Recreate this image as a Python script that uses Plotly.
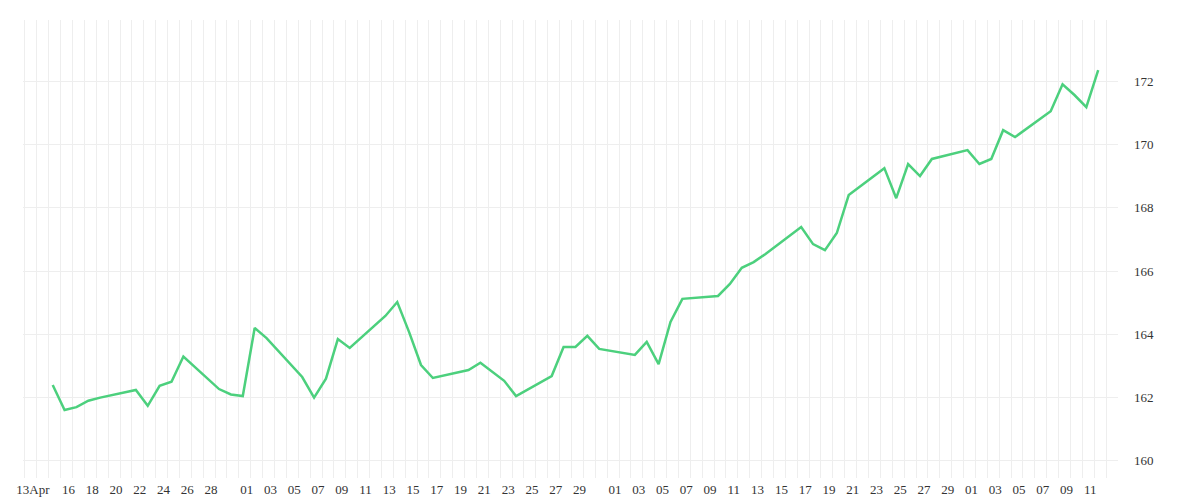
import plotly.graph_objects as go
import pandas as pd

dates = ["2024-04-15","2024-04-16","2024-04-17","2024-04-18","2024-04-19",
         "2024-04-22","2024-04-23","2024-04-24","2024-04-25","2024-04-26",
         "2024-04-29","2024-04-30","2024-05-01","2024-05-02","2024-05-03",
         "2024-05-06","2024-05-07","2024-05-08","2024-05-09","2024-05-10",
         "2024-05-13","2024-05-14","2024-05-15","2024-05-16","2024-05-17",
         "2024-05-20","2024-05-21","2024-05-22","2024-05-23","2024-05-24",
         "2024-05-27","2024-05-28","2024-05-29","2024-05-30","2024-05-31",
         "2024-06-03","2024-06-04","2024-06-05","2024-06-06","2024-06-07",
         "2024-06-10","2024-06-11","2024-06-12","2024-06-13","2024-06-14",
         "2024-06-17","2024-06-18","2024-06-19","2024-06-20","2024-06-21",
         "2024-06-24","2024-06-25","2024-06-26","2024-06-27","2024-06-28",
         "2024-07-01","2024-07-02","2024-07-03","2024-07-04","2024-07-05",
         "2024-07-08","2024-07-09","2024-07-10","2024-07-11","2024-07-12"]
values = [162.40,161.61,161.70,161.90,162.00,
          162.24,161.74,162.37,162.50,163.30,
          162.27,162.10,162.05,164.20,163.88,
          162.65,162.00,162.60,163.85,163.57,
          164.58,165.02,164.07,163.03,162.62,
          162.87,163.10,162.80,162.53,162.05,
          162.68,163.60,163.60,163.95,163.54,
          163.35,163.76,163.06,164.39,165.12,
          165.21,165.59,166.10,166.28,166.54,
          167.39,166.85,166.66,167.20,168.40,
          169.25,168.30,169.38,169.00,169.54,
          169.82,169.38,169.54,170.45,170.23,
          171.05,171.90,171.56,171.18,172.35]

tick_dates = ["2024-04-13"] + [f"2024-04-{d:02d}" for d in range(16, 29, 2)] \
    + [f"2024-05-{d:02d}" for d in range(1, 30, 2)] \
    + [f"2024-06-{d:02d}" for d in range(1, 30, 2)] \
    + [f"2024-07-{d:02d}" for d in range(1, 12, 2)]
tick_labels = ["13Apr"] + [f"{d:02d}" for d in range(16, 29, 2)] \
    + [f"{d:02d}" for d in range(1, 30, 2)] \
    + [f"{d:02d}" for d in range(1, 30, 2)] \
    + [f"{d:02d}" for d in range(1, 12, 2)]

tickvals = [pd.Timestamp(d) + pd.Timedelta(hours=8) for d in tick_dates]

fig = go.Figure(go.Scatter(x=pd.to_datetime(dates), y=values, mode="lines",
                           line=dict(color="#4cd07d", width=2.5)))
fig.update_layout(
    width=1200, height=500, plot_bgcolor="white", paper_bgcolor="white",
    margin=dict(l=15, r=90, t=12, b=30), showlegend=False,
    font=dict(family="Liberation Serif", size=13, color="#333"),
)
fig.update_xaxes(range=[pd.Timestamp("2024-04-12 12:00"), pd.Timestamp("2024-07-13 16:00")],
                 tickvals=tickvals, ticktext=tick_labels, showgrid=False, automargin=False,
                 minor=dict(dtick=86400000, tick0="2024-04-12 16:00", showgrid=True,
                            gridcolor="#eeeeee", gridwidth=1),
                 zeroline=False, showline=False, ticks="", ticklabelstandoff=2)
fig.update_yaxes(side="right", range=[159.46, 173.93], tickvals=[160,162,164,166,168,170,172],
                 gridcolor="#eeeeee", zeroline=False, showline=False, ticks="",
                 ticklabelstandoff=15, automargin=False,
                 minor=dict(dtick=0.5, showgrid=False))
fig.write_html("out.html")
